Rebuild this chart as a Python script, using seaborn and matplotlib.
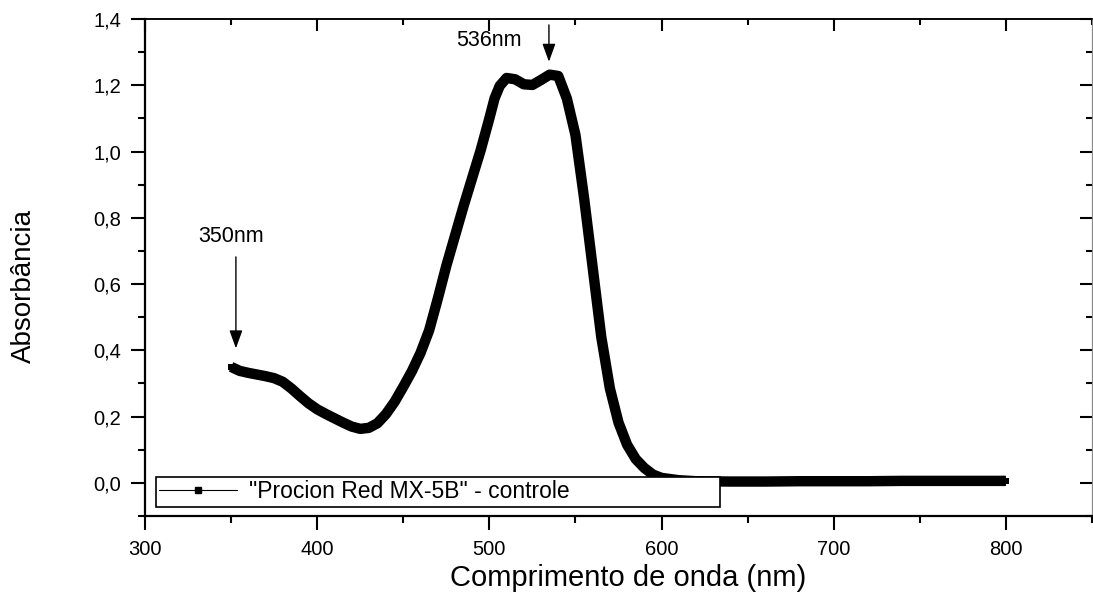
import matplotlib
matplotlib.use('Agg')
import matplotlib.pyplot as plt
import seaborn as sns
import pandas as pd
from matplotlib.ticker import MultipleLocator, FuncFormatter
from matplotlib.lines import Line2D

# espectro UV-Vis do corante
wavelength = [350, 355, 360, 365, 370, 375, 380, 385, 390, 395,
              400, 405, 410, 415, 420, 425, 430, 435, 440, 445,
              450, 455, 460, 465, 470, 475, 480, 485, 490, 495,
              500, 503, 506, 510, 515, 520, 525, 530, 535, 540, 545,
              550, 555, 560, 565, 570, 575, 580, 585, 590, 595,
              600, 610, 620, 640, 660, 680, 700, 720, 740, 760, 780, 800]
absorbance = [0.350, 0.338, 0.332, 0.327, 0.322, 0.316, 0.305, 0.285, 0.262, 0.240,
              0.222, 0.208, 0.195, 0.182, 0.170, 0.163, 0.166, 0.180, 0.208, 0.245,
              0.290, 0.337, 0.392, 0.460, 0.555, 0.655, 0.745, 0.835, 0.920, 1.005,
              1.100, 1.160, 1.198, 1.222, 1.218, 1.203, 1.201, 1.216, 1.232, 1.228, 1.160,
              1.050, 0.860, 0.650, 0.440, 0.285, 0.182, 0.115, 0.072, 0.045, 0.025,
              0.015, 0.008, 0.005, 0.004, 0.004, 0.005, 0.005, 0.005, 0.006, 0.006, 0.006, 0.006]
series_label = '"Procion Red MX-5B" - controle'
peak_text = ['350nm', '536nm']
peak_wl = [352.8, 534.6]

sns.set_theme(style='ticks', rc={'axes.edgecolor': 'black', 'text.color': 'black',
                                 'xtick.color': 'black', 'ytick.color': 'black',
                                 'axes.labelcolor': 'black'})
plt.rcParams['font.family'] = ['Liberation Sans', 'DejaVu Sans']

fig = plt.figure(figsize=(10.93, 6.03), dpi=100)
ax = fig.add_axes([145/1093, 1 - 516/603, (1092 - 145)/1093, (516 - 19)/603])

df = pd.DataFrame({'wl': wavelength, 'abs': absorbance})
sns.lineplot(data=df, x='wl', y='abs', ax=ax, color='black', linewidth=7.5,
             marker='s', markersize=5, markeredgewidth=0, legend=False, sort=False,
             solid_joinstyle='round', solid_capstyle='butt')

ax.set_xlim(300, 850)
ax.set_ylim(-0.1, 1.4)
ax.xaxis.set_major_locator(MultipleLocator(100))
ax.xaxis.set_minor_locator(MultipleLocator(50))
ax.yaxis.set_major_locator(MultipleLocator(0.2))
ax.yaxis.set_minor_locator(MultipleLocator(0.1))
ax.yaxis.set_major_formatter(FuncFormatter(lambda v, p: f'{v:.1f}'.replace('.', ',')))
ax.tick_params(which='both', direction='out', labelsize=14.5, width=1.5, pad=7)
ax.tick_params(which='major', length=10)
ax.tick_params(which='minor', length=5)

for s in ['left', 'bottom']:
    ax.spines[s].set_linewidth(1.6)
ax.spines['top'].set_linewidth(1.1)
ax.spines['right'].set_linewidth(0.8)
ax.spines['right'].set_color('#888888')

# ticks para dentro no topo e na direita
top = ax.secondary_xaxis('top')
top.xaxis.set_major_locator(MultipleLocator(100))
top.xaxis.set_minor_locator(MultipleLocator(50))
top.tick_params(which='both', direction='in', labeltop=False, width=1.5)
top.tick_params(which='major', length=8.5)
top.tick_params(which='minor', length=4.5)
top.spines['top'].set_linewidth(1.1)
right = ax.secondary_yaxis('right')
right.yaxis.set_major_locator(MultipleLocator(0.2))
right.yaxis.set_minor_locator(MultipleLocator(0.1))
right.tick_params(which='both', direction='in', labelright=False, width=1.5)
right.tick_params(which='major', length=8.5)
right.tick_params(which='minor', length=4.5)
right.spines['right'].set_linewidth(0.8)
right.spines['right'].set_color('#888888')

ax.set_xlabel('Comprimento de onda (nm)', fontsize=21)
ax.xaxis.label.set_va('center')
ax.xaxis.set_label_coords(0.51, -0.125)
ax.set_ylabel('Absorbância', fontsize=20)
ax.yaxis.label.set_va('center')
ax.yaxis.set_label_coords(-0.128, 0.463)

# setas dos picos
ax.annotate('', xy=(peak_wl[0], 0.406), xytext=(peak_wl[0], 0.682),
            arrowprops=dict(arrowstyle='-|>,head_length=0.55,head_width=0.2',
                            mutation_scale=20, lw=1, color='black',
                            shrinkA=0, shrinkB=0))
ax.text(350, 0.743, peak_text[0], fontsize=15.5, ha='center', va='center')
ax.annotate('', xy=(peak_wl[1], 1.271), xytext=(peak_wl[1], 1.382),
            arrowprops=dict(arrowstyle='-|>,head_length=0.55,head_width=0.2',
                            mutation_scale=20, lw=1, color='black',
                            shrinkA=0, shrinkB=0))
ax.text(500, 1.336, peak_text[1], fontsize=15.5, ha='center', va='center')

handle = Line2D([], [], color='black', lw=0.8, marker='s', markersize=5)
leg = ax.legend([handle], [series_label], loc='lower left', mode='expand',
                bbox_to_anchor=(0.0113, 0.0187, (720 - 155.7)/947.5, (506.7 - 473.3)/497),
                borderaxespad=0, fontsize=16.5, handlelength=3.4, handletextpad=0.5,
                fancybox=False, framealpha=1, edgecolor='black', borderpad=0.15)
leg.get_frame().set_linewidth(1.2)

fig.savefig('out.png', dpi=100)
